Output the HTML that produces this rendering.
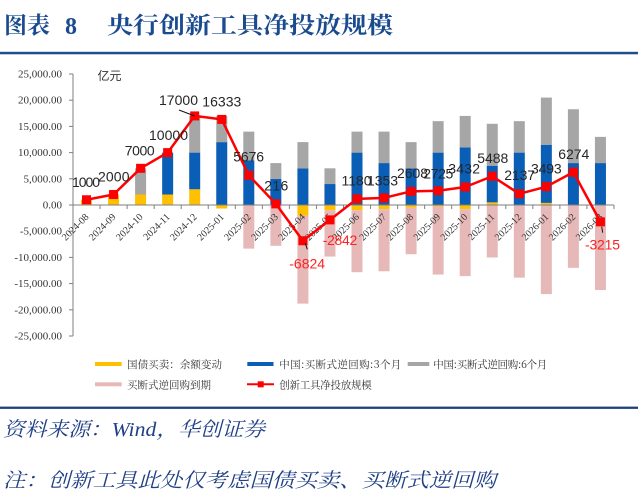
<!DOCTYPE html>
<html>
<head>
<meta charset="utf-8">
<style>
html,body{margin:0;padding:0;background:#fff;}
svg{display:block;}
</style>
</head>
<body>
<svg width="638" height="501" viewBox="0 0 638 501" xmlns="http://www.w3.org/2000/svg">
<rect x="0" y="0" width="638" height="501" fill="#fff"/>

<!-- Title -->
<text x="4" y="33" font-family="'Noto Serif CJK SC', serif" font-weight="bold" font-size="23" fill="#1B4B8F" textLength="46" lengthAdjust="spacingAndGlyphs">图表</text>
<text x="65" y="34" font-family="'Liberation Serif', serif" font-weight="bold" font-size="24" fill="#1B4B8F">8</text>
<text x="107" y="33" font-family="'Noto Serif CJK SC', serif" font-weight="bold" font-size="23" fill="#1B4B8F" textLength="286" lengthAdjust="spacingAndGlyphs">央行创新工具净投放规模</text>
<rect x="0" y="51.8" width="638" height="2.5" fill="#1F4E8C"/>

<!-- unit -->
<text x="97.5" y="80" font-family="'Liberation Sans','Noto Sans CJK SC',sans-serif" font-size="12" fill="#333">亿元</text>

<!-- Y axis -->
<g font-family="'Liberation Serif',serif" font-size="11" fill="#333" text-anchor="end">
<text x="62" y="77.5">25,000.00</text>
<text x="62" y="103.7">20,000.00</text>
<text x="62" y="129.9">15,000.00</text>
<text x="62" y="156.1">10,000.00</text>
<text x="62" y="182.3">5,000.00</text>
<text x="62" y="208.5">0.00</text>
<text x="62" y="234.7">-5,000.00</text>
<text x="62" y="260.9">-10,000.00</text>
<text x="62" y="287.1">-15,000.00</text>
<text x="62" y="313.3">-20,000.00</text>
<text x="62" y="339.5">-25,000.00</text>
</g>
<g stroke="#7f7f7f" stroke-width="1">
<line x1="73" y1="74" x2="73" y2="336"/>
<line x1="69" y1="74" x2="73" y2="74"/>
<line x1="69" y1="100.2" x2="73" y2="100.2"/>
<line x1="69" y1="126.4" x2="73" y2="126.4"/>
<line x1="69" y1="152.6" x2="73" y2="152.6"/>
<line x1="69" y1="178.8" x2="73" y2="178.8"/>
<line x1="69" y1="205" x2="73" y2="205"/>
<line x1="69" y1="231.2" x2="73" y2="231.2"/>
<line x1="69" y1="257.4" x2="73" y2="257.4"/>
<line x1="69" y1="283.6" x2="73" y2="283.6"/>
<line x1="69" y1="309.8" x2="73" y2="309.8"/>
<line x1="69" y1="336" x2="73" y2="336"/>
</g>

<!-- Bars -->
<g>
<!-- yellow -->
<g fill="#FFC000">
<rect x="81" y="199.76" width="11" height="5.24"/>
<rect x="108.05" y="194.52" width="11" height="10.48"/>
<rect x="135.1" y="194.52" width="11" height="10.48"/>
<rect x="162.15" y="194.52" width="11" height="10.48"/>
<rect x="189.2" y="189.28" width="11" height="15.72"/>
<rect x="216.25" y="205" width="11" height="3.5"/>
<rect x="297.4" y="205" width="11" height="10.48"/>
<rect x="324.45" y="205" width="11" height="5.24"/>
<rect x="351.5" y="205" width="11" height="5.24"/>
<rect x="378.55" y="205" width="11" height="4.19"/>
<rect x="405.6" y="205" width="11" height="2.62"/>
<rect x="432.65" y="205" width="11" height="1.44"/>
<rect x="459.7" y="205" width="11" height="4.19"/>
<rect x="486.75" y="202.38" width="11" height="2.62"/>
<rect x="540.85" y="202.9" width="11" height="2.1"/>
</g>
<!-- blue -->
<g fill="#0A5EB5">
<rect x="162.15" y="152.6" width="11" height="41.92"/>
<rect x="189.2" y="152.6" width="11" height="36.68"/>
<rect x="216.25" y="142.12" width="11" height="62.88"/>
<rect x="243.3" y="160.46" width="11" height="44.54"/>
<rect x="270.35" y="178.8" width="11" height="26.2"/>
<rect x="297.4" y="168.32" width="11" height="36.68"/>
<rect x="324.45" y="184.04" width="11" height="20.96"/>
<rect x="351.5" y="152.6" width="11" height="52.4"/>
<rect x="378.55" y="163.08" width="11" height="41.92"/>
<rect x="405.6" y="168.32" width="11" height="36.68"/>
<rect x="432.65" y="152.6" width="11" height="52.4"/>
<rect x="459.7" y="147.36" width="11" height="57.64"/>
<rect x="486.75" y="165.7" width="11" height="36.68"/>
<rect x="513.8" y="152.6" width="11" height="52.4"/>
<rect x="540.85" y="144.74" width="11" height="58.16"/>
<rect x="567.9" y="163.08" width="11" height="41.92"/>
<rect x="594.95" y="163.08" width="11" height="41.92"/>
</g>
<!-- gray -->
<g fill="#A6A6A6">
<rect x="135.1" y="168.32" width="11" height="26.2"/>
<rect x="189.2" y="115.92" width="11" height="36.68"/>
<rect x="216.25" y="115.92" width="11" height="26.2"/>
<rect x="243.3" y="131.64" width="11" height="28.82"/>
<rect x="270.35" y="163.08" width="11" height="15.72"/>
<rect x="297.4" y="142.12" width="11" height="26.2"/>
<rect x="324.45" y="168.32" width="11" height="15.72"/>
<rect x="351.5" y="131.64" width="11" height="20.96"/>
<rect x="378.55" y="131.64" width="11" height="31.44"/>
<rect x="405.6" y="142.12" width="11" height="26.2"/>
<rect x="432.65" y="121.16" width="11" height="31.44"/>
<rect x="459.7" y="115.92" width="11" height="31.44"/>
<rect x="486.75" y="123.78" width="11" height="41.92"/>
<rect x="513.8" y="121.16" width="11" height="31.44"/>
<rect x="540.85" y="97.58" width="11" height="47.16"/>
<rect x="567.9" y="109.24" width="11" height="53.84"/>
<rect x="594.95" y="136.88" width="11" height="26.2"/>
</g>
<!-- pink -->
<g fill="#E6B9B8">
<rect x="243.3" y="205" width="11" height="43.62"/>
<rect x="270.35" y="205" width="11" height="40.79"/>
<rect x="297.4" y="215.48" width="11" height="88.16"/>
<rect x="324.45" y="210.24" width="11" height="46.33"/>
<rect x="351.5" y="210.24" width="11" height="61.94"/>
<rect x="378.55" y="209.19" width="11" height="62.08"/>
<rect x="405.6" y="207.62" width="11" height="46.59"/>
<rect x="432.65" y="206.44" width="11" height="68.12"/>
<rect x="459.7" y="209.19" width="11" height="66.9"/>
<rect x="486.75" y="205" width="11" height="52.46"/>
<rect x="513.8" y="205" width="11" height="72.64"/>
<rect x="540.85" y="205" width="11" height="89.12"/>
<rect x="567.9" y="205" width="11" height="62.88"/>
<rect x="594.95" y="205" width="11" height="84.97"/>
</g>
</g>

<!-- X axis -->
<g stroke="#7f7f7f" stroke-width="1">
<line x1="73" y1="205" x2="614" y2="205"/>
<line x1="100.05" y1="205" x2="100.05" y2="209"/>
<line x1="127.1" y1="205" x2="127.1" y2="209"/>
<line x1="154.15" y1="205" x2="154.15" y2="209"/>
<line x1="181.2" y1="205" x2="181.2" y2="209"/>
<line x1="208.25" y1="205" x2="208.25" y2="209"/>
<line x1="235.3" y1="205" x2="235.3" y2="209"/>
<line x1="262.35" y1="205" x2="262.35" y2="209"/>
<line x1="289.4" y1="205" x2="289.4" y2="209"/>
<line x1="316.45" y1="205" x2="316.45" y2="209"/>
<line x1="343.5" y1="205" x2="343.5" y2="209"/>
<line x1="370.55" y1="205" x2="370.55" y2="209"/>
<line x1="397.6" y1="205" x2="397.6" y2="209"/>
<line x1="424.65" y1="205" x2="424.65" y2="209"/>
<line x1="451.7" y1="205" x2="451.7" y2="209"/>
<line x1="478.75" y1="205" x2="478.75" y2="209"/>
<line x1="505.8" y1="205" x2="505.8" y2="209"/>
<line x1="532.85" y1="205" x2="532.85" y2="209"/>
<line x1="559.9" y1="205" x2="559.9" y2="209"/>
<line x1="586.95" y1="205" x2="586.95" y2="209"/>
<line x1="614" y1="205" x2="614" y2="209"/>
</g>
<g font-family="'Liberation Serif',serif" font-size="10" fill="#333" text-anchor="end">
<text transform="translate(89.3,217.5) rotate(-45)">2024-08</text>
<text transform="translate(116.35,217.5) rotate(-45)">2024-09</text>
<text transform="translate(143.4,217.5) rotate(-45)">2024-10</text>
<text transform="translate(170.45,217.5) rotate(-45)">2024-11</text>
<text transform="translate(197.5,217.5) rotate(-45)">2024-12</text>
<text transform="translate(224.55,217.5) rotate(-45)">2025-01</text>
<text transform="translate(251.6,217.5) rotate(-45)">2025-02</text>
<text transform="translate(278.65,217.5) rotate(-45)">2025-03</text>
<text transform="translate(305.7,217.5) rotate(-45)">2025-04</text>
<text transform="translate(332.75,217.5) rotate(-45)">2025-05</text>
<text transform="translate(359.8,217.5) rotate(-45)">2025-06</text>
<text transform="translate(386.85,217.5) rotate(-45)">2025-07</text>
<text transform="translate(413.9,217.5) rotate(-45)">2025-08</text>
<text transform="translate(440.95,217.5) rotate(-45)">2025-09</text>
<text transform="translate(468,217.5) rotate(-45)">2025-10</text>
<text transform="translate(495.05,217.5) rotate(-45)">2025-11</text>
<text transform="translate(522.1,217.5) rotate(-45)">2025-12</text>
<text transform="translate(549.15,217.5) rotate(-45)">2026-01</text>
<text transform="translate(576.2,217.5) rotate(-45)">2026-02</text>
<text transform="translate(603.25,217.5) rotate(-45)">2026-03</text>
</g>

<!-- Line series -->
<polyline fill="none" stroke="#FF0000" stroke-width="2.5" stroke-linejoin="round"
points="86.5,199.76 113.55,194.52 140.6,168.32 167.65,152.6 194.7,115.92 221.75,119.41 248.8,175.26 275.85,203.87 302.9,240.76 329.95,219.89 357,198.82 384.05,197.91 411.1,191.33 438.15,190.72 465.2,187.02 492.25,176.24 519.3,193.8 546.35,186.7 573.4,172.12 600.45,221.85"/>
<g fill="#FF0000">
<rect x="82" y="195.26" width="9" height="9"/>
<rect x="109.05" y="190.02" width="9" height="9"/>
<rect x="136.1" y="163.82" width="9" height="9"/>
<rect x="163.15" y="148.1" width="9" height="9"/>
<rect x="190.2" y="111.42" width="9" height="9"/>
<rect x="217.25" y="114.91" width="9" height="9"/>
<rect x="244.3" y="170.76" width="9" height="9"/>
<rect x="271.35" y="199.37" width="9" height="9"/>
<rect x="298.4" y="236.26" width="9" height="9"/>
<rect x="325.45" y="215.39" width="9" height="9"/>
<rect x="352.5" y="194.32" width="9" height="9"/>
<rect x="379.55" y="193.41" width="9" height="9"/>
<rect x="406.6" y="186.83" width="9" height="9"/>
<rect x="433.65" y="186.22" width="9" height="9"/>
<rect x="460.7" y="182.52" width="9" height="9"/>
<rect x="487.75" y="171.74" width="9" height="9"/>
<rect x="514.8" y="189.3" width="9" height="9"/>
<rect x="541.85" y="182.2" width="9" height="9"/>
<rect x="568.9" y="167.62" width="9" height="9"/>
<rect x="595.95" y="217.35" width="9" height="9"/>
</g>

<!-- leader lines -->
<g stroke="#111" stroke-width="1">
<line x1="179" y1="110" x2="194.7" y2="116"/>
<line x1="305.3" y1="243.3" x2="307.3" y2="249.3"/>
<line x1="601.7" y1="226.7" x2="602.7" y2="232.7"/>
</g>

<!-- Data labels -->
<g font-family="'Liberation Sans',sans-serif" font-size="14" fill="#262626" lengthAdjust="spacingAndGlyphs">
<text x="72" y="187" textLength="28">1000</text>
<text x="98" y="181.5" textLength="31.5">2000</text>
<text x="124.7" y="155.5" textLength="30">7000</text>
<text x="149" y="140" textLength="39">10000</text>
<text x="159" y="105" textLength="39">17000</text>
<text x="202.3" y="106.5" textLength="39">16333</text>
<text x="233.3" y="161.7" textLength="30.7">5676</text>
<text x="264.3" y="190.7" textLength="24">216</text>
<text x="341.5" y="185.7" textLength="30">1180</text>
<text x="367" y="185.7" textLength="31">1353</text>
<text x="397" y="178" textLength="31">2608</text>
<text x="423.3" y="178.3" textLength="30">2725</text>
<text x="448.3" y="173.3" textLength="31.7">3432</text>
<text x="477.3" y="163" textLength="31">5488</text>
<text x="504.3" y="180" textLength="30.7">2137</text>
<text x="531" y="173.3" textLength="30.7">3493</text>
<text x="558.3" y="159" textLength="31">6274</text>
</g>
<g font-family="'Liberation Sans',sans-serif" font-size="14" fill="#FF2020" lengthAdjust="spacingAndGlyphs">
<text x="289.3" y="268.3" textLength="35.7">-6824</text>
<text x="322.7" y="245" textLength="34.6">-2842</text>
<text x="585" y="249.3" textLength="35">-3215</text>
</g>

<!-- Legend -->
<g>
<rect x="95" y="362" width="26.7" height="4" fill="#FFC000"/>
<rect x="247.3" y="362" width="26.2" height="4" fill="#0A5EB5"/>
<rect x="407.7" y="362" width="21.6" height="4" fill="#A6A6A6"/>
<rect x="95" y="382.3" width="26.7" height="4" fill="#E6B9B8"/>
<line x1="247" y1="384.3" x2="274" y2="384.3" stroke="#FF0000" stroke-width="2"/>
<rect x="257.7" y="381.3" width="6" height="6" fill="#FF0000"/>
</g>
<g font-family="'Noto Serif CJK SC','Liberation Serif',serif" font-size="10.5" fill="#333" lengthAdjust="spacingAndGlyphs">
<text x="127" y="368" textLength="95">国债买卖：余额变动</text>
<text x="279.3" y="368" textLength="122">中国:买断式逆回购:3个月</text>
<text x="433.3" y="368" textLength="114">中国:买断式逆回购:6个月</text>
<text x="127" y="388.3" textLength="84">买断式逆回购到期</text>
<text x="279.3" y="388.3" textLength="92.4">创新工具净投放规模</text>
</g>

<!-- Footer -->
<rect x="0" y="406.6" width="638" height="2.3" fill="#1F3F7F"/>
<text x="3" y="436" font-family="'Liberation Serif','Noto Serif CJK SC',serif" font-style="italic" font-size="20" fill="#1F3F86" textLength="262" lengthAdjust="spacingAndGlyphs">资料来源：Wind，华创证券</text>
<text x="3" y="487" font-family="'Liberation Serif','Noto Serif CJK SC',serif" font-style="italic" font-size="20" fill="#1F3F86" textLength="493" lengthAdjust="spacingAndGlyphs">注：创新工具此处仅考虑国债买卖、买断式逆回购</text>
</svg>
</body>
</html>
